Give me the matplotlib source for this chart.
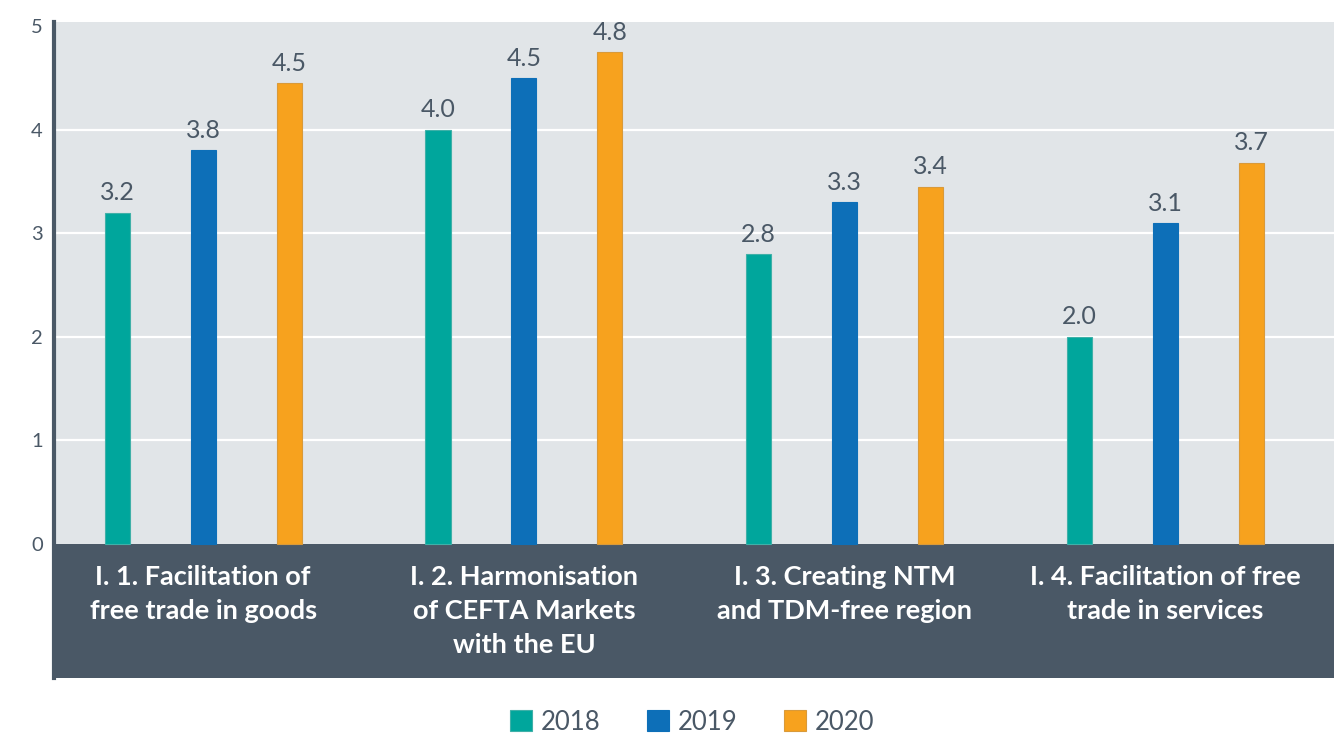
"""Grouped bar chart: CEFTA trade facilitation scores, 2018-2020."""

import numpy as np
import matplotlib

matplotlib.use("Agg")
import matplotlib.pyplot as plt  # noqa: E402
from matplotlib.patches import Patch  # noqa: E402

categories = [
    "I. 1. Facilitation of\nfree trade in goods",
    "I. 2. Harmonisation\nof CEFTA Markets\nwith the EU",
    "I. 3. Creating NTM\nand TDM-free region",
    "I. 4. Facilitation of free\ntrade in services",
]
years = ["2018", "2019", "2020"]
scores_2018 = [3.2, 4.0, 2.8, 2.0]
scores_2019 = [3.8, 4.5, 3.3, 3.1]
scores_2020 = [4.45, 4.75, 3.45, 3.68]
labels_2018 = ["3.2", "4.0", "2.8", "2.0"]
labels_2019 = ["3.8", "4.5", "3.3", "3.1"]
labels_2020 = ["4.5", "4.8", "3.4", "3.7"]
yticks = [0, 1, 2, 3, 4, 5]

COLORS = ["#00a69c", "#0d6fb8", "#f7a21e"]
EDGES = ["#3fb0a8", "#0d6fb8", "#d99a3a"]
BG = "#e1e5e8"
BAND = "#4a5866"
TEXT = "#4a5866"
FONT = "Lato"

W, H, DPI = 1342, 735, 100


def plot_scores(out="out.png"):
    fig = plt.figure(figsize=(W / DPI, H / DPI), dpi=DPI)
    # axes spans the grey plot area plus the dark label band below zero
    left, right, top, bottom = 54, 1334, 22, 678
    ax = fig.add_axes([left / W, 1 - bottom / H, (right - left) / W, (bottom - top) / H])
    ymin, ymax = -1.295, 5.04
    ax.set_ylim(ymin, ymax)
    ax.set_xlim(-0.465, 3.525)
    ax.set_facecolor(BG)
    ax.axhspan(ymin, 0, color=BAND, zorder=1, lw=0)

    for t in yticks[1:-1]:
        ax.axhline(t, color="white", lw=1.6, zorder=1)

    x = np.arange(len(categories))
    offset, width = 0.268, 0.078
    series = [scores_2018, scores_2019, scores_2020]
    texts = [labels_2018, labels_2019, labels_2020]
    for i, (vals, labs) in enumerate(zip(series, texts)):
        xs = x + (i - 1) * offset
        bars = ax.bar(xs, vals, width=width, color=COLORS[i], edgecolor=EDGES[i],
                      lw=0.8, zorder=3)
        for b, lab in zip(bars, labs):
            ax.annotate(lab, (b.get_x() + b.get_width() / 2, b.get_height()),
                        xytext=(0, 6), textcoords="offset points", ha="center",
                        va="bottom", fontsize=18, color=TEXT, family=FONT)

    for xi, cat in zip(x, categories):
        ax.text(xi, -0.2, cat, ha="center", va="top", color="white",
                fontsize=19.5, fontweight="bold", family=FONT, linespacing=1.5,
                zorder=4)

    ax.set_yticks(yticks)
    ax.set_yticklabels([str(t) for t in yticks], family=FONT, fontsize=14.5, color=TEXT)
    ax.tick_params(axis="y", length=0, pad=8)
    ax.set_xticks([])
    for s in ["top", "right", "bottom"]:
        ax.spines[s].set_visible(False)
    ax.spines["left"].set_color(BAND)
    ax.spines["left"].set_linewidth(3)
    ax.spines["left"].set_zorder(5)

    handles = [Patch(facecolor=c, edgecolor=e, lw=0.8) for c, e in zip(COLORS, EDGES)]
    fig.legend(handles, years, loc="center", bbox_to_anchor=(692 / W, 1 - 722 / H),
               ncol=3, frameon=False, handlelength=0.85, handleheight=0.85,
               handletextpad=0.35, columnspacing=1.8, borderpad=0,
               prop={"family": FONT, "size": 18.5}, labelcolor=TEXT)

    fig.savefig(out, dpi=DPI)
    return fig, ax


if __name__ == "__main__":
    plot_scores()
